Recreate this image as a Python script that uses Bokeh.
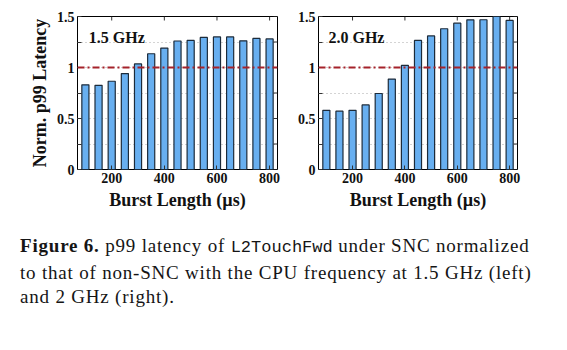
from bokeh.plotting import figure
from bokeh.models import Range1d, Span, Label, FixedTicker, Div
from bokeh.layouts import column, row
from bokeh.embed import file_html
from bokeh.resources import INLINE

burst = [100, 150, 200, 250, 300, 350, 400, 450, 500, 550, 600, 650, 700, 750, 800]
lat_15 = [0.83, 0.825, 0.865, 0.94, 1.035, 1.135, 1.19, 1.26, 1.265, 1.295, 1.30, 1.30, 1.262, 1.285, 1.28]
lat_20 = [0.58, 0.572, 0.58, 0.633, 0.745, 0.887, 1.02, 1.265, 1.31, 1.38, 1.435, 1.467, 1.468, 1.51, 1.462]
x_ticks = [200, 400, 600, 800]
y_major = [0, 0.5, 1.0, 1.5]
y_minor = [0.25, 0.75, 1.25]
y_all = [0, 0.25, 0.5, 0.75, 1.0, 1.25, 1.5]
panel_labels = ["1.5 GHz", "2.0 GHz"]

XMIN, XMAX = 70, 830
YMIN, YMAX = 0, 1.5
SERIF = "Liberation Serif"
BAR_FILL = "#68aff0"
BAR_LINE = "#1c2b3a"
TICK = "#333333"


def make_panel(vals, label, label_x, width, border_left, border_right, ylabel):
    p = figure(width=width, height=214, output_backend="svg", toolbar_location=None,
               x_range=Range1d(XMIN, XMAX), y_range=Range1d(YMIN, YMAX),
               min_border_left=border_left, min_border_right=border_right,
               min_border_top=16, min_border_bottom=45)
    p.ygrid.ticker = FixedTicker(ticks=y_all)
    p.ygrid.grid_line_color = "#a8a8a8"
    p.ygrid.grid_line_dash = "1 3"
    p.ygrid.grid_line_width = 1
    p.xgrid.visible = False

    p.vbar(x=burst, top=vals, width=27, fill_color=BAR_FILL, line_color=BAR_LINE, line_width=1.2)

    # inward ticks on top and right edges, from the tick lists
    tx = (XMAX - XMIN) / 200 * 4
    ty = (YMAX - YMIN) / 153 * 4
    p.segment(x0=x_ticks, x1=x_ticks, y0=[YMAX] * len(x_ticks), y1=[YMAX - ty] * len(x_ticks),
              line_color=TICK, line_width=1)
    p.segment(x0=[XMAX] * len(y_all), x1=[XMAX - tx] * len(y_all), y0=y_all, y1=y_all,
              line_color=TICK, line_width=1)

    p.outline_line_color = "black"
    p.outline_line_width = 1
    p.outline_line_alpha = 1

    xa = p.xaxis[0]
    xa.ticker = FixedTicker(ticks=x_ticks)
    xa.axis_label = "Burst Length (\u00b5s)"
    ya = p.yaxis[0]
    ya.ticker = FixedTicker(ticks=y_major, minor_ticks=y_minor)
    if ylabel:
        ya.axis_label = "Norm. p99 Latency"
    for ax in (xa, ya):
        ax.axis_line_color = None
        ax.major_tick_in = 4
        ax.major_tick_out = 0
        ax.minor_tick_in = 4
        ax.minor_tick_out = 0
        ax.minor_tick_line_color = TICK
        ax.major_tick_line_color = TICK
        ax.major_label_text_font = SERIF
        ax.major_label_text_font_style = "bold"
        ax.major_label_text_font_size = "14px"
        ax.major_label_text_color = "#111111"
        ax.axis_label_text_font = SERIF
        ax.axis_label_text_font_style = "bold"
        ax.axis_label_text_font_size = "18px"
        ax.axis_label_text_color = "#111111"
    xa.minor_tick_line_color = None
    xa.major_label_standoff = 3
    ya.major_label_standoff = 3
    xa.axis_label_standoff = 4
    ya.axis_label_standoff = 4

    p.add_layout(Span(location=1.0, dimension="width", line_color="#a5222a",
                      line_width=2, line_dash="7 3 2 3"))
    p.add_layout(Label(x=label_x, y=1.295, text=label, text_font=SERIF, text_font_style="bold",
                       text_font_size="16px", text_color="#111111", text_baseline="alphabetic"))
    return p


p1 = make_panel(lat_15, panel_labels[0], 113, 290, 77, 13, True)
p2 = make_panel(lat_20, panel_labels[1], 108, 277, 28, 50, False)

caption = Div(
    text=("<div style=\"font-family:'Liberation Serif',serif;font-size:19px;line-height:24.5px;"
          "letter-spacing:0.8px;color:#151515;padding-left:20px;padding-top:20px;margin:0;"
          "white-space:nowrap\">"
          "<b>Figure 6.</b> p99 latency of "
          "<span style=\"font-family:'Liberation Mono',monospace;font-size:17px;letter-spacing:0\">L2TouchFwd</span> "
          "under SNC normalized<br>to that of non-SNC with the CPU frequency at 1.5 GHz (left)"
          "<br>and 2 GHz (right).</div>"),
    width=567, height=136, styles={"margin": "0", "padding": "0"})

layout = column(row(p1, p2, spacing=0), caption, spacing=0)
open("out.html", "w").write(file_html(layout, INLINE))
